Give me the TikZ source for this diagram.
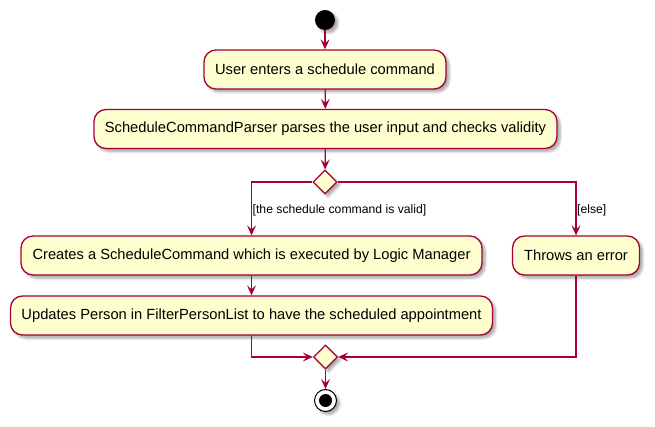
\documentclass[tikz,border=0pt]{standalone}
\usepackage{fontspec}
\setmainfont{Liberation Sans}
\usetikzlibrary{arrows.meta,shapes.geometric,shadows.blur}
\definecolor{umlred}{HTML}{A80036}
\definecolor{umlfill}{HTML}{FEFECE}
\begin{document}
\begin{tikzpicture}[x=1pt,y=-1pt,
  shade/.style={blur shadow={shadow xshift=3pt,shadow yshift=-3pt,shadow blur steps=6,shadow opacity=35,shadow blur radius=2.5pt}},
  act/.style={draw=umlred, fill=umlfill, line width=1.3pt, rounded corners=12pt,
    minimum height=39pt, inner sep=0pt, font=\fontsize{14.7}{17}\selectfont, shade},
  dec/.style={diamond, draw=umlred, fill=umlfill, line width=1.3pt,
    minimum width=24pt, minimum height=24pt, inner sep=0pt, shade},
  flow/.style={draw=umlred, line width=1.3pt, -{Stealth[length=10pt,width=9pt,inset=4pt]}},
  lbl/.style={font=\fontsize{12.2}{14}\selectfont, anchor=west, inner sep=1pt}]
\useasboundingbox (0,0) rectangle (655,427);

\node[circle, fill=black, minimum size=20pt, inner sep=0pt, shade] (start) at (325,20) {};
\node[act, minimum width=242pt] (b1) at (325,69.5) {User enters a schedule command};
\node[act, minimum width=463pt] (b2) at (325.5,129) {ScheduleCommandParser parses the user input and checks validity};
\node[dec] (d1) at (325,182) {};
\node[act, minimum width=461pt] (b3) at (251.5,255.5) {Creates a ScheduleCommand which is executed by Logic Manager};
\node[act, minimum width=127pt] (b4) at (576,255.5) {Throws an error};
\node[act, minimum width=482pt] (b5) at (251.5,315.5) {Updates Person in FilterPersonList to have the scheduled appointment};
\node[dec] (d2) at (325.5,357) {};
\node[circle, draw=black, line width=1pt, fill=white, minimum size=22pt, inner sep=0pt, shade] (end) at (325.5,400.5) {};
\fill[black] (end.center) circle (6.5pt);

\draw[flow] (start) -- (b1);
\draw[flow] (b1) -- (b2);
\draw[flow] (b2) -- (d1);
\draw[flow] (d1.west) -| (b3.north);
\draw[flow] (d1.east) -| (b4.north);
\draw[flow] (b3) -- (b5);
\draw[flow] (b5.south) |- (d2.west);
\draw[flow] (b4.south) |- (d2.east);
\draw[flow] (d2) -- (end);

\node[lbl] (l1) at (251.5,210) {[the schedule command is valid]};
\node[lbl] (l2) at (576,210) {[else]};
\end{tikzpicture}
\end{document}
